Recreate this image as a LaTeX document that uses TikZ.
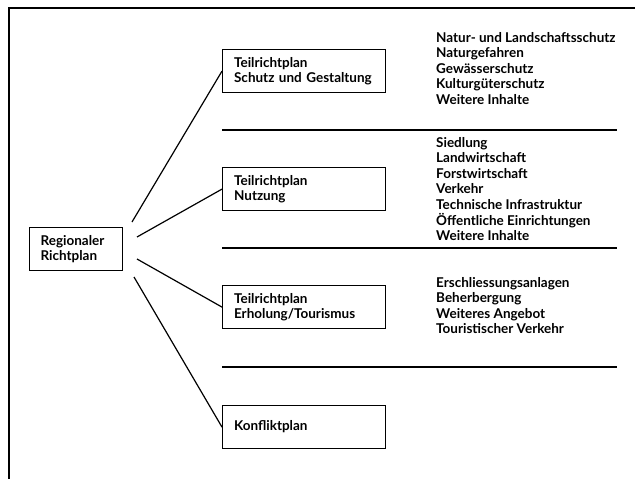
\documentclass[tikz,border=0pt]{standalone}
\usepackage{fontspec}
\setmainfont{Lato}
\usepackage{tikz}
\usetikzlibrary{positioning}

\begin{document}
\begin{tikzpicture}[x=1pt,y=-1pt]
  \tikzset{plan/.style = {draw,line width=1.2pt,minimum height=43pt,inner xsep=11.5pt,text width=140pt,align=left,anchor=north west,font=\bfseries\fontsize{13.5}{15}\selectfont}}
  \tikzset{liste/.style = {anchor=base west,inner sep=0pt,align=left,font=\bfseries\fontsize{13.5}{15.6}\selectfont}}
  \useasboundingbox (0,0) rectangle (635,479);
  % frame
  \draw[line width=1.3pt] (635,8) -- (9,8) -- (9,479);
	\node[plan,inner xsep=11pt,text width=71pt] (R) at (29,227) {Regionaler\\Richtplan};
	\node[plan] (S) at (222,49) {Teilrichtplan\\Schutz und Gestaltung};
	\node[plan] (N) at (222,167) {Teilrichtplan\\Nutzung};
	\node[plan] (E) at (222,285) {Teilrichtplan\\Erholung/Tourismus};
	\node[plan] (K) at (222,405) {Konfliktplan};
	\coordinate (R1) at (132,222);
	\coordinate (R2) at (137,237);
	\coordinate (R3) at (137,259);
	\coordinate (R4) at (134,277);

       \foreach \from/\to in {R1/S, R2/N, R3/E, R4/K}
    \draw[line width=1.2pt] (\from) -- (\to.west);

  % separators
  \foreach \y in {130,248,367}
    \draw[line width=1.2pt] (222,\y) -- (617,\y);

  % lists, placed by the baseline of their last line
	\node[liste] (LS) at (436,104.4) {Natur- und Landschaftsschutz\\Naturgefahren\\Gewässerschutz\\Kulturgüterschutz\\Weitere Inhalte};
	\node[liste] (LN) at (436,240.6) {Siedlung\\Landwirtschaft\\Forstwirtschaft\\Verkehr\\Technische Infrastruktur\\Öffentliche Einrichtungen\\Weitere Inhalte};
	\node[liste] (LE) at (436,333.8) {Erschliessungsanlagen\\Beherbergung\\Weiteres Angebot\\Touristischer Verkehr};
\end{tikzpicture}
\end{document}
